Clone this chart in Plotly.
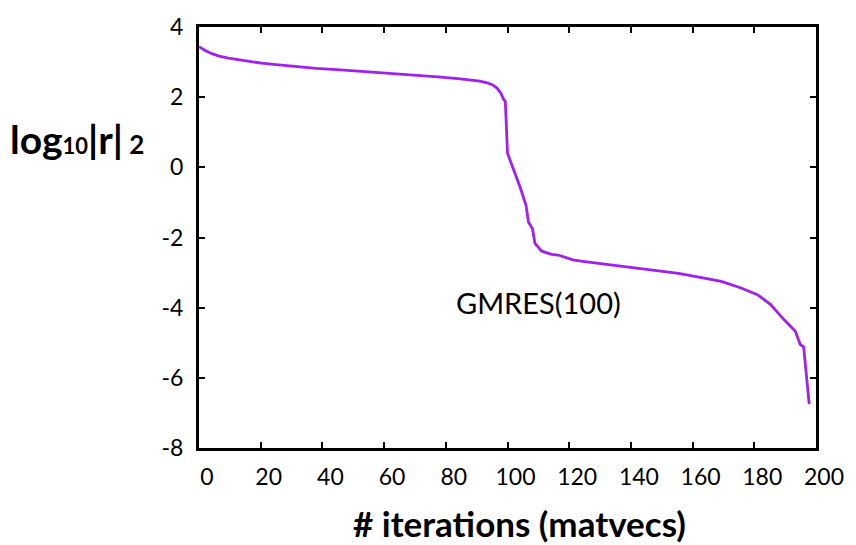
import plotly.graph_objects as go

# GMRES(100) residual history
iterations = [0, 1, 2, 4.2, 6.5, 9.5, 14, 20.3, 25, 31, 38, 45.9, 56, 66.7, 77.4,
              84, 88, 91, 93.4, 95.2, 96.6, 97.8, 98.8, 99.3, 100, 102, 104.1, 106,
              106.8, 108.1, 108.9, 111.1, 114.3, 116.4, 118, 121.2, 124.4, 131.9,
              140, 147.9, 155.4, 160.7, 165, 169.3, 175.7, 181, 185.3, 189.6, 193.3,
              194.9, 196, 197.8]
log_residual = [3.44, 3.38, 3.33, 3.24, 3.17, 3.11, 3.05, 2.97, 2.93, 2.88, 2.82,
                2.78, 2.72, 2.64, 2.58, 2.53, 2.50, 2.46, 2.41, 2.35, 2.26, 2.12,
                1.93, 1.88, 0.40, -0.05, -0.57, -1.08, -1.56, -1.75, -2.17, -2.39,
                -2.48, -2.50, -2.55, -2.64, -2.68, -2.76, -2.84, -2.92, -3.02,
                -3.11, -3.18, -3.25, -3.44, -3.63, -3.91, -4.34, -4.67, -5.05,
                -5.12, -6.75]

x_ticks = [0, 20, 40, 60, 80, 100, 120, 140, 160, 180, 200]
y_ticks = [-8, -6, -4, -2, 0, 2, 4]

FONT = "Lato"

fig = go.Figure()
fig.add_trace(go.Scatter(x=iterations, y=log_residual, mode="lines",
                         line=dict(color="#A020F0", width=2.8), showlegend=False))

axis_common = dict(showline=True, linecolor="black", linewidth=3, mirror="ticks",
                   ticks="inside", ticklen=6, tickwidth=2, tickcolor="black",
                   showgrid=False, zeroline=False,
                   tickfont=dict(family=FONT, size=23, color="black"))

fig.update_xaxes(range=[0, 200], tickvals=x_ticks,
                 ticktext=[str(v) for v in x_ticks], ticklabelshift=8,
                 ticklabelstandoff=6, **axis_common)
fig.update_yaxes(range=[-8, 4], tickvals=y_ticks,
                 ticktext=[str(v) for v in y_ticks], ticklabelstandoff=8,
                 **axis_common)

fig.add_annotation(x=110, y=-3.85, xref="x", yref="y", text="GMRES(100)",
                   showarrow=False, font=dict(family=FONT, size=29, color="black"))
fig.add_annotation(x=0.52, y=-0.178, xref="paper", yref="paper",
                   text="<b># iterations (matvecs)</b>", showarrow=False,
                   xanchor="center", yanchor="middle",
                   font=dict(family=FONT, size=35, color="black"))
fig.add_annotation(x=-0.31, y=0.735, xref="paper", yref="paper",
                   text=("<b>log<span style='font-size:22px'>10</span>|r|"
                         "<span style='font-size:26px'> 2</span></b>"),
                   showarrow=False, xanchor="left", yanchor="middle",
                   font=dict(family=FONT, size=39, color="black"))

fig.update_layout(width=856, height=545, plot_bgcolor="white", paper_bgcolor="white",
                  margin=dict(l=199, r=34, t=24, b=97))

fig.write_html("out.html")
